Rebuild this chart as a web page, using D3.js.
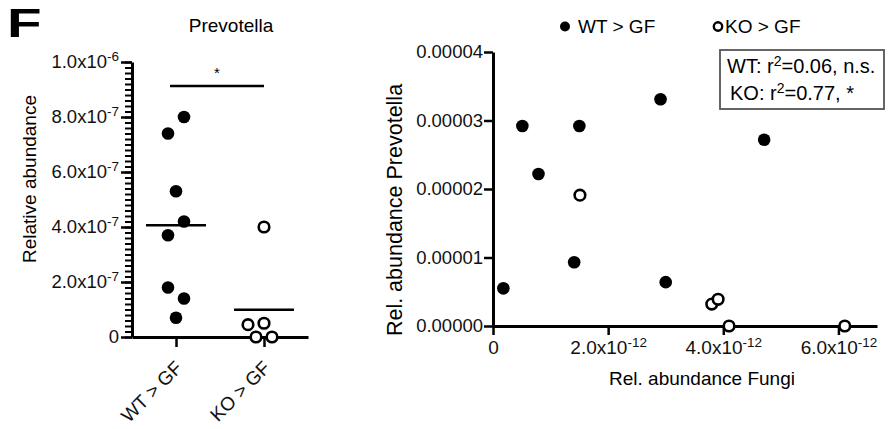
<!DOCTYPE html>
<html>
<head>
<meta charset="utf-8">
<script src="https://cdn.jsdelivr.net/npm/d3@7"></script>
<style>
  body { margin: 0; background: #fff; }
  svg { display: block; font-family: "Liberation Sans", Arial, sans-serif; }
  .axis path, .axis line { stroke: #000; }
  .axis text { fill: #111; }
</style>
</head>
<body>
<div id="chart"></div>
<script>
// Left panel: Prevotella relative abundance per group
const groups = ["WT > GF", "KO > GF"];
const wtAbundance = [8.0e-7, 7.4e-7, 5.3e-7, 4.2e-7, 3.7e-7, 1.8e-7, 1.4e-7, 0.7e-7];
const wtJitter = [1, -1, 0, 1, -1, -1, 1, 0];
const koAbundance = [4.0e-7, 0.45e-7, 0.5e-7, 0, 0];
const koJitter = [0, -2, 0, -1, 1];
const leftYTicks = [0, 2e-7, 4e-7, 6e-7, 8e-7, 1e-6];
const leftYTickLabels = [["0", ""], ["2.0x10", "-7"], ["4.0x10", "-7"], ["6.0x10", "-7"], ["8.0x10", "-7"], ["1.0x10", "-6"]];

// Right panel: Fungi vs Prevotella
const wtFungi = [0.18e-12, 0.51e-12, 0.79e-12, 1.50e-12, 1.41e-12, 2.91e-12, 3.0e-12, 4.71e-12];
const wtPrevotella = [0.55e-5, 2.92e-5, 2.22e-5, 2.92e-5, 0.93e-5, 3.31e-5, 0.64e-5, 2.72e-5];
const koFungi = [1.51e-12, 3.80e-12, 3.91e-12, 4.10e-12, 6.11e-12];
const koPrevotella = [1.91e-5, 0.32e-5, 0.39e-5, 0, 0];
const rightXTicks = [0, 2e-12, 4e-12, 6e-12];
const rightXTickLabels = [["0", ""], ["2.0x10", "-12"], ["4.0x10", "-12"], ["6.0x10", "-12"]];
const rightYTicks = [0, 1e-5, 2e-5, 3e-5, 4e-5];
const rightYTickLabels = ["0.00000", "0.00001", "0.00002", "0.00003", "0.00004"];
const statLines = [["WT: r", "2", "=0.06, n.s."], ["KO: r", "2", "=0.77, *"]];

const FS = 18.5;
const width = 888, height = 429;

const svg = d3.select('#chart').append('svg')
  .attr('width', width)
  .attr('height', height);

// write "1.0x10" + superscript into a text node
function supText(sel, main, sup) {
  sel.text(null);
  sel.append('tspan').text(main);
  if (sup) sel.append('tspan').attr('dy', -7).attr('font-size', 13.5).text(sup);
}

// ---------- panel label ----------
svg.append('text')
  .attr('transform', 'translate(7,37) scale(1.38,1)')
  .attr('font-size', 41).attr('font-weight', 'bold')
  .text('F');

// ---------- LEFT PANEL ----------
const xL = d3.scalePoint().domain(groups).range([132, 308]).padding(0.5);
const yL = d3.scaleLinear().domain([0, 1e-6]).range([337, 62]);
const jit = 8;

svg.append('text')
  .attr('x', 231).attr('y', 32)
  .attr('text-anchor', 'middle').attr('font-size', 19)
  .text('Prevotella');

// minor ticks
svg.append('g')
  .attr('class', 'axis')
  .attr('transform', 'translate(132,0)')
  .call(d3.axisLeft(yL).ticks(50).tickSize(7).tickFormat(''))
  .call(g => g.select('.domain').remove())
  .selectAll('line').attr('stroke-width', 2);

// major ticks + labels
const yAxisL = svg.append('g')
  .attr('class', 'axis')
  .attr('transform', 'translate(132,0)')
  .call(d3.axisLeft(yL).tickValues(leftYTicks).tickSize(11).tickPadding(2).tickSizeOuter(0));
yAxisL.select('.domain').attr('stroke-width', 3);
yAxisL.selectAll('.tick line').attr('stroke-width', 2.5);
yAxisL.selectAll('.tick text')
  .attr('font-size', FS)
  .each(function(d, i) { supText(d3.select(this), leftYTickLabels[i][0], leftYTickLabels[i][1]); });

const xAxisL = svg.append('g')
  .attr('class', 'axis')
  .attr('transform', 'translate(0,337)')
  .call(d3.axisBottom(xL).tickSize(10).tickSizeOuter(0));
xAxisL.select('.domain').attr('stroke-width', 3);
xAxisL.selectAll('.tick line').attr('stroke-width', 2.5);
xAxisL.selectAll('.tick text')
  .attr('font-size', 19)
  .attr('text-anchor', 'end')
  .attr('y', 0).attr('dy', 0)
  .attr('transform', 'translate(7,32) rotate(-45)');

svg.append('text')
  .attr('transform', 'translate(36,179) rotate(-90)')
  .attr('text-anchor', 'middle').attr('font-size', 19)
  .text('Relative abundance');

// WT points
svg.append('g').selectAll('circle')
  .data(wtAbundance)
  .enter()
  .append('circle')
  .attr('cx', (d, i) => xL(groups[0]) + wtJitter[i] * jit)
  .attr('cy', d => yL(d))
  .attr('r', 6.3)
  .attr('fill', '#000');

// KO points
svg.append('g').selectAll('circle')
  .data(koAbundance)
  .enter()
  .append('circle')
  .attr('cx', (d, i) => xL(groups[1]) + koJitter[i] * jit)
  .attr('cy', d => yL(d))
  .attr('r', 5.3)
  .attr('fill', '#fff')
  .attr('stroke', '#000')
  .attr('stroke-width', 2.6);

// mean lines
const means = [d3.mean(wtAbundance), d3.mean(koAbundance)];
svg.append('g').selectAll('line')
  .data(means)
  .enter()
  .append('line')
  .attr('x1', (d, i) => xL(groups[i]) - 30)
  .attr('x2', (d, i) => xL(groups[i]) + 30)
  .attr('y1', d => yL(d))
  .attr('y2', d => yL(d))
  .attr('stroke', '#000')
  .attr('stroke-width', 2.5);

// significance bar
svg.append('line')
  .attr('x1', xL(groups[0]) - 6).attr('x2', xL(groups[1]))
  .attr('y1', yL(9.13e-7)).attr('y2', yL(9.13e-7))
  .attr('stroke', '#000').attr('stroke-width', 2.5);
svg.append('text')
  .attr('x', (xL(groups[0]) + xL(groups[1])) / 2 - 3)
  .attr('y', yL(9.13e-7) - 8)
  .attr('text-anchor', 'middle').attr('font-size', 15)
  .text('*');

// ---------- RIGHT PANEL ----------
const xR = d3.scaleLinear().domain([0, 6.67e-12]).range([493, 877]);
const yR = d3.scaleLinear().domain([0, 4e-5]).range([326, 52]);

const yAxisR = svg.append('g')
  .attr('class', 'axis')
  .attr('transform', 'translate(493,0)')
  .call(d3.axisLeft(yR).tickValues(rightYTicks).tickSize(9).tickPadding(1).tickSizeOuter(0)
    .tickFormat((d, i) => rightYTickLabels[i]));
yAxisR.select('.domain').attr('stroke-width', 3);
yAxisR.selectAll('.tick line').attr('stroke-width', 2.5);
yAxisR.selectAll('.tick text').attr('font-size', FS);

const xAxisR = svg.append('g')
  .attr('class', 'axis')
  .attr('transform', 'translate(0,326)')
  .call(d3.axisBottom(xR).tickValues(rightXTicks).tickSize(9).tickPadding(6).tickSizeOuter(0));
xAxisR.select('.domain').attr('stroke-width', 3);
xAxisR.selectAll('.tick line').attr('stroke-width', 2.5);
xAxisR.selectAll('.tick text')
  .attr('font-size', 19)
  .each(function(d, i) { supText(d3.select(this), rightXTickLabels[i][0], rightXTickLabels[i][1]); });

svg.append('text')
  .attr('x', 702).attr('y', 385)
  .attr('text-anchor', 'middle').attr('font-size', 19)
  .text('Rel. abundance Fungi');

svg.append('text')
  .attr('transform', 'translate(402,210) rotate(-90)')
  .attr('text-anchor', 'middle').attr('font-size', 21.5)
  .text('Rel. abundance Prevotella');

svg.append('g').selectAll('circle')
  .data(wtFungi)
  .enter()
  .append('circle')
  .attr('cx', d => xR(d))
  .attr('cy', (d, i) => yR(wtPrevotella[i]))
  .attr('r', 6.3)
  .attr('fill', '#000');

svg.append('g').selectAll('circle')
  .data(koFungi)
  .enter()
  .append('circle')
  .attr('cx', d => xR(d))
  .attr('cy', (d, i) => yR(koPrevotella[i]))
  .attr('r', 5.3)
  .attr('fill', '#fff')
  .attr('stroke', '#000')
  .attr('stroke-width', 2.6);

// legend
svg.append('circle').attr('cx', 565).attr('cy', 26.5).attr('r', 5).attr('fill', '#000');
svg.append('text').attr('x', 578).attr('y', 33).attr('font-size', 19).text(groups[0]);
svg.append('circle').attr('cx', 718).attr('cy', 26.5).attr('r', 4.2)
  .attr('fill', '#fff').attr('stroke', '#000').attr('stroke-width', 2.4);
svg.append('text').attr('x', 725).attr('y', 33).attr('font-size', 19).text(groups[1]);

// stats box
svg.append('rect')
  .attr('x', 720).attr('y', 50).attr('width', 164).attr('height', 59)
  .attr('fill', '#fff').attr('stroke', '#555').attr('stroke-width', 1.8);
svg.append('g').selectAll('text')
  .data(statLines)
  .enter()
  .append('text')
  .attr('x', (d, i) => i === 0 ? 727 : 730)
  .attr('y', (d, i) => 73 + i * 26.5)
  .attr('font-size', 20)
  .each(function(d) {
    const t = d3.select(this);
    t.append('tspan').text(d[0]);
    t.append('tspan').attr('dy', -7).attr('font-size', 14).text(d[1]);
    t.append('tspan').attr('dy', 7).text(d[2]);
  });
</script>
</body>
</html>
